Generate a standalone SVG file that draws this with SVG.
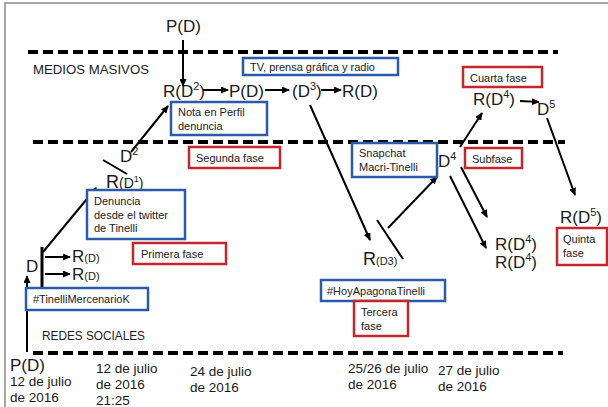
<svg xmlns="http://www.w3.org/2000/svg" width="608" height="407" viewBox="0 0 608 407">
<style>
text{font-family:"Liberation Sans",Arial,sans-serif;fill:#1a1a1a}
.big{font-size:17px}
.rb{font-size:18px}
.rs{font-size:17px}
.lbl{font-size:11px}
.date{font-size:13.5px}
.lane{font-size:13.5px}
.dash{stroke:#000;stroke-width:4;stroke-dasharray:10 5;fill:none}
.bb{fill:#fff;stroke:#2b5aa8;stroke-width:2.5}
.rbx{fill:#fff;stroke:#c4262e;stroke-width:2.5}
.c{stroke:#000;stroke-width:2;fill:none}
.ca{stroke:#000;stroke-width:2;fill:none;marker-end:url(#ah)}
</style>
<defs>
<marker id="ah" markerWidth="8" markerHeight="7" refX="7" refY="3.5" orient="auto" markerUnits="userSpaceOnUse">
<path d="M0,0 L8,3.5 L0,7 Z" fill="#000"/>
</marker>
</defs>
<rect x="0" y="0" width="608" height="407" fill="#fff"/>
<path d="M5,407 V3 H608" fill="none" stroke="#8a8a8a" stroke-width="1.5"/>

<g id="lanes">
<line class="dash" x1="28" y1="52" x2="558" y2="52"/>
<line class="dash" x1="33" y1="142" x2="565" y2="142"/>
<line class="dash" x1="33" y1="353" x2="563" y2="353"/>
<text class="lane" x="33" y="74" textLength="116" lengthAdjust="spacingAndGlyphs">MEDIOS MASIVOS</text>
<text class="lane" x="42" y="340" textLength="103" lengthAdjust="spacingAndGlyphs">REDES SOCIALES</text>
</g>

<g id="connectors">
<line class="ca" x1="183" y1="40" x2="183" y2="86"/>
<line class="ca" x1="203" y1="90" x2="228" y2="90"/>
<line class="ca" x1="265" y1="90" x2="289" y2="90"/>
<line class="ca" x1="321" y1="90" x2="341" y2="90"/>
<line class="ca" x1="131" y1="152" x2="168" y2="106"/>
<line class="c" x1="103" y1="160" x2="127" y2="174"/>
<line class="ca" x1="43" y1="252" x2="96" y2="188"/>
<line class="c" x1="42" y1="247" x2="42" y2="290" style="stroke-width:3"/>
<line class="ca" x1="27" y1="352" x2="27" y2="276"/>
<line class="ca" x1="45" y1="257" x2="70" y2="257"/>
<line class="ca" x1="45" y1="274" x2="70" y2="274"/>
<line class="ca" x1="310" y1="105" x2="370" y2="240"/>
<line class="c" x1="377" y1="220" x2="403" y2="259"/>
<line class="ca" x1="388" y1="228" x2="437" y2="177"/>
<line class="ca" x1="460" y1="147" x2="482" y2="113"/>
<line class="ca" x1="520" y1="101" x2="539" y2="102"/>
<line class="ca" x1="547" y1="118" x2="575" y2="195"/>
<line class="ca" x1="461" y1="167" x2="487" y2="217"/>
<line class="ca" x1="450" y1="176" x2="486" y2="248"/>
</g>

<g id="pd-top"><text class="big" x="166" y="32">P(D)</text></g>
<g id="rd2"><text class="big" x="163" y="97">R(D<tspan font-size="11" dy="-7">2</tspan><tspan dy="7">)</tspan></text></g>
<g id="pd-mid"><text class="big" x="229" y="97">P(D)</text></g>
<g id="d3"><text class="big" x="292" y="97">(D<tspan font-size="11" dy="-7">3</tspan><tspan dy="7">)</tspan></text></g>
<g id="rd-top"><text class="big" x="342" y="97">R(D)</text></g>
<g id="d2"><text class="big" x="120" y="162">D<tspan font-size="11" dy="-7">2</tspan></text></g>
<g id="rd1"><text class="rb" x="106" y="188">R<tspan font-size="14">(D</tspan><tspan font-size="9" dy="-6">1</tspan><tspan font-size="14" dy="6">)</tspan></text></g>
<g id="d"><text class="big" x="26" y="272">D</text></g>
<g id="rd-a"><text class="rs" x="72" y="262">R<tspan font-size="11">(D)</tspan></text></g>
<g id="rd-b"><text class="rs" x="72" y="280">R<tspan font-size="11">(D)</tspan></text></g>
<g id="rd3"><text class="rb" x="363" y="265">R<tspan font-size="11">(D3)</tspan></text></g>
<g id="d4"><text class="big" x="438" y="167">D<tspan font-size="11" dy="-7">4</tspan></text></g>
<g id="rd4-top"><text class="big" x="473" y="105">R(D<tspan font-size="11" dy="-7">4</tspan><tspan dy="7">)</tspan></text></g>
<g id="d5"><text class="big" x="537" y="115">D<tspan font-size="11" dy="-7">5</tspan></text></g>
<g id="rd5"><text class="big" x="560" y="223">R(D<tspan font-size="11" dy="-7">5</tspan><tspan dy="7">)</tspan></text></g>
<g id="rd4-a"><text class="big" x="495" y="250">R(D<tspan font-size="11" dy="-7">4</tspan><tspan dy="7">)</tspan></text></g>
<g id="rd4-b"><text class="big" x="495" y="268">R(D<tspan font-size="11" dy="-7">4</tspan><tspan dy="7">)</tspan></text></g>
<g id="pd-bottom"><text class="big" x="10" y="371">P(D)</text></g>

<g id="box-tv"><rect class="bb" x="243" y="58" width="155" height="17"/><text class="lbl" x="250" y="71">TV, prensa gráfica y radio</text></g>
<g id="box-nota"><rect class="bb" x="171" y="102" width="96" height="33"/><text class="lbl" x="178" y="116">Nota en Perfil</text><text class="lbl" x="178" y="130">denuncia</text></g>
<g id="box-segunda"><rect class="rbx" x="189" y="147" width="91" height="21"/><text class="lbl" x="196" y="162">Segunda  fase</text></g>
<g id="box-denuncia"><rect class="bb" x="87" y="190" width="98" height="49"/><text class="lbl" x="94" y="205">Denuncia</text><text class="lbl" x="94" y="219">desde el twitter</text><text class="lbl" x="94" y="232">de Tinelli</text></g>
<g id="box-primera"><rect class="rbx" x="133" y="243" width="93" height="21"/><text class="lbl" x="141" y="258">Primera fase</text></g>
<g id="box-tinelli"><rect class="bb" x="26" y="288" width="122" height="22"/><text class="lbl" x="33" y="303">#TinelliMercenarioK</text></g>
<g id="box-snapchat"><rect class="bb" x="352" y="143" width="85" height="34"/><text class="lbl" x="359" y="157">Snapchat</text><text class="lbl" x="359" y="171">Macri-Tinelli</text></g>
<g id="box-subfase"><rect class="rbx" x="465" y="148" width="57" height="20"/><text class="lbl" x="472" y="163">Subfase</text></g>
<g id="box-cuarta"><rect class="rbx" x="463" y="67" width="79" height="20"/><text class="lbl" x="470" y="82">Cuarta  fase</text></g>
<g id="box-quinta"><rect class="rbx" x="557" y="228" width="50" height="37"/><text class="lbl" x="563" y="243">Quinta</text><text class="lbl" x="563" y="257">fase</text></g>
<g id="box-hoy"><rect class="bb" x="321" y="280" width="124" height="21"/><text class="lbl" x="327" y="295">#HoyApagonaTinelli</text></g>
<g id="box-tercera"><rect class="rbx" x="354" y="301" width="54" height="35"/><text class="lbl" x="361" y="316">Tercera</text><text class="lbl" x="361" y="330">fase</text></g>

<g id="dates">
<text class="date" x="10" y="386">12 de julio</text><text class="date" x="10" y="402">de 2016</text>
<text class="date" x="96" y="373">12 de julio</text><text class="date" x="96" y="389">de 2016</text><text class="date" x="96" y="405">21:25</text>
<text class="date" x="190" y="376">24 de julio</text><text class="date" x="190" y="392">de 2016</text>
<text class="date" x="348" y="373">25/26 de julio</text><text class="date" x="348" y="389">de 2016</text>
<text class="date" x="438" y="375">27 de julio</text><text class="date" x="438" y="391">de 2016</text>
</g>
</svg>
